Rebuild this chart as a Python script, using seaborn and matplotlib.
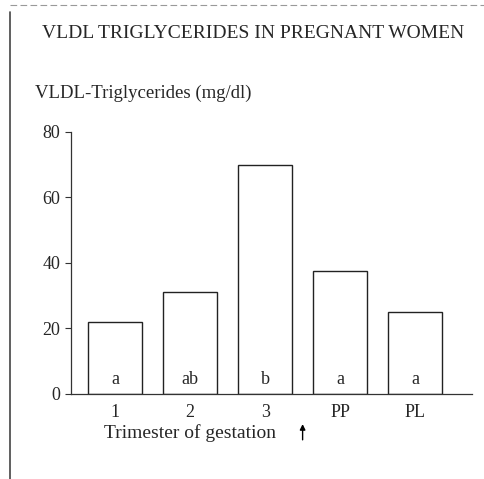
"""VLDL triglycerides in pregnant women - bar chart."""

import pandas as pd
import seaborn as sns
import matplotlib.pyplot as plt
from matplotlib.lines import Line2D

groups = ['1', '2', '3', 'PP', 'PL']
vldl_tg = [22, 31, 70, 37.5, 25]
sig_letters = ['a', 'ab', 'b', 'a', 'a']

df = pd.DataFrame({'group': groups, 'tg': vldl_tg})

sns.set_theme(style='ticks')
plt.rcParams['font.family'] = ['Liberation Serif', 'DejaVu Serif']

fig = plt.figure(figsize=(4.84, 4.79), dpi=100)
ax = fig.add_axes([0.147, 0.1775, 0.828, 0.547])

sns.barplot(data=df, x='group', y='tg', color='white', edgecolor='#222222',
            linewidth=1.0, width=0.72, ax=ax)

ax.set_ylim(0, 80)
ax.set_xlim(-0.59, 4.76)
ax.set_yticks([0, 20, 40, 60, 80])
ax.set_xlabel('')
ax.set_ylabel('')
ax.tick_params(axis='y', length=4, width=0.8, labelsize=13, pad=4, color='#333333')
ax.tick_params(axis='x', length=0, labelsize=13, pad=7)
for side in ['top', 'right']:
    ax.spines[side].set_visible(False)
for side in ['left', 'bottom']:
    ax.spines[side].set_linewidth(0.9)
    ax.spines[side].set_color('#333333')

# Letters for statistical groups inside the bars
for i, lab in enumerate(sig_letters):
    ax.text(i, 4.5, lab, ha='center', va='center', fontsize=13)

ax.text(1, -0.15, 'Trimester of gestation', transform=ax.get_xaxis_transform(),
        ha='center', va='center', fontsize=14)

# Arrow marking delivery
ax.annotate('', xy=(2.5, -0.115), xytext=(2.5, -0.175),
            xycoords=ax.get_xaxis_transform(), textcoords=ax.get_xaxis_transform(),
            arrowprops=dict(arrowstyle='-|>', color='black', lw=1.0,
                            mutation_scale=8, shrinkA=0, shrinkB=0),
            annotation_clip=False)

fig.text(0.523, 0.931, 'VLDL TRIGLYCERIDES IN PREGNANT WOMEN',
         ha='center', va='center', fontsize=14)
fig.text(0.072, 0.806, 'VLDL-Triglycerides (mg/dl)', ha='left', va='center', fontsize=13.5)

# Scan border
fig.add_artist(Line2D([0.021, 0.021], [0.0, 0.975], color='#444444', lw=1.2))
fig.add_artist(Line2D([0.021, 1.0], [0.99, 0.99], color='#999999', lw=0.8, ls=(0, (6, 3))))

fig.savefig('out.png', dpi=100, facecolor='white')
